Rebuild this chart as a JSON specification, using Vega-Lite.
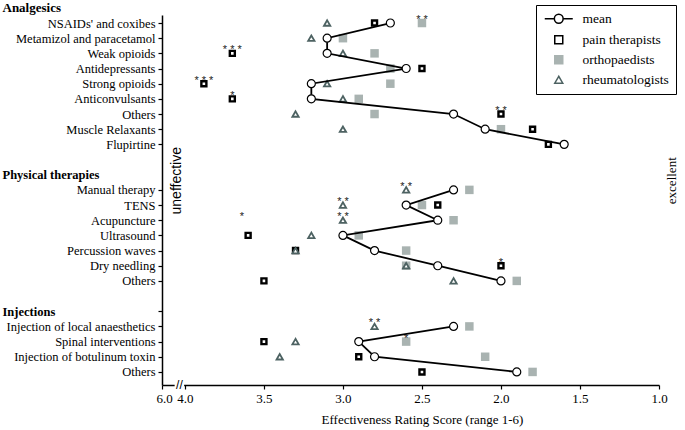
{
  "$schema": "https://vega.github.io/schema/vega-lite/v6.json",
  "width": 497,
  "height": 370,
  "autosize": {"type": "none"},
  "padding": {"left": 162, "top": 15, "right": 26, "bottom": 45},
  "background": "white",
  "config": {
    "view": {"stroke": null},
    "font": "Liberation Serif",
    "axis": {"domainColor": "black", "tickColor": "black", "labelColor": "black", "titleColor": "black", "grid": false}
  },
  "datasets": {
    "groups": [
      {"t": "NSAIDs' and coxibes", "s": "orthopaedists", "v": 2.5},
      {"t": "Metamizol and paracetamol", "s": "orthopaedists", "v": 3.0},
      {"t": "Weak opioids", "s": "orthopaedists", "v": 2.8},
      {"t": "Antidepressants", "s": "orthopaedists", "v": 2.7},
      {"t": "Strong opioids", "s": "orthopaedists", "v": 2.7},
      {"t": "Anticonvulsants", "s": "orthopaedists", "v": 2.9},
      {"t": "Others|a", "s": "orthopaedists", "v": 2.8},
      {"t": "Muscle Relaxants", "s": "orthopaedists", "v": 2.0},
      {"t": "Manual therapy", "s": "orthopaedists", "v": 2.2},
      {"t": "TENS", "s": "orthopaedists", "v": 2.5},
      {"t": "Acupuncture", "s": "orthopaedists", "v": 2.3},
      {"t": "Ultrasound", "s": "orthopaedists", "v": 2.9},
      {"t": "Percussion waves", "s": "orthopaedists", "v": 2.6},
      {"t": "Dry needling", "s": "orthopaedists", "v": 2.6},
      {"t": "Others|p", "s": "orthopaedists", "v": 1.9},
      {"t": "Injection of local anaesthetics", "s": "orthopaedists", "v": 2.2},
      {"t": "Spinal interventions", "s": "orthopaedists", "v": 2.6},
      {"t": "Injection of botulinum toxin", "s": "orthopaedists", "v": 2.1},
      {"t": "Others|i", "s": "orthopaedists", "v": 1.8},
      {"t": "NSAIDs' and coxibes", "s": "pain therapists", "v": 2.8},
      {"t": "Weak opioids", "s": "pain therapists", "v": 3.7},
      {"t": "Antidepressants", "s": "pain therapists", "v": 2.5},
      {"t": "Strong opioids", "s": "pain therapists", "v": 3.88},
      {"t": "Anticonvulsants", "s": "pain therapists", "v": 3.7},
      {"t": "Others|a", "s": "pain therapists", "v": 2.0},
      {"t": "Muscle Relaxants", "s": "pain therapists", "v": 1.8},
      {"t": "Flupirtine", "s": "pain therapists", "v": 1.7},
      {"t": "TENS", "s": "pain therapists", "v": 2.4},
      {"t": "Ultrasound", "s": "pain therapists", "v": 3.6},
      {"t": "Percussion waves", "s": "pain therapists", "v": 3.3},
      {"t": "Dry needling", "s": "pain therapists", "v": 2.0},
      {"t": "Others|p", "s": "pain therapists", "v": 3.5},
      {"t": "Spinal interventions", "s": "pain therapists", "v": 3.5},
      {"t": "Injection of botulinum toxin", "s": "pain therapists", "v": 2.9},
      {"t": "Others|i", "s": "pain therapists", "v": 2.5},
      {"t": "NSAIDs' and coxibes", "s": "rheumatologists", "v": 3.1},
      {"t": "Metamizol and paracetamol", "s": "rheumatologists", "v": 3.2},
      {"t": "Weak opioids", "s": "rheumatologists", "v": 3.0},
      {"t": "Strong opioids", "s": "rheumatologists", "v": 3.1},
      {"t": "Anticonvulsants", "s": "rheumatologists", "v": 3.0},
      {"t": "Others|a", "s": "rheumatologists", "v": 3.3},
      {"t": "Muscle Relaxants", "s": "rheumatologists", "v": 3.0},
      {"t": "Manual therapy", "s": "rheumatologists", "v": 2.6},
      {"t": "TENS", "s": "rheumatologists", "v": 3.0},
      {"t": "Acupuncture", "s": "rheumatologists", "v": 3.0},
      {"t": "Ultrasound", "s": "rheumatologists", "v": 3.2},
      {"t": "Percussion waves", "s": "rheumatologists", "v": 3.3},
      {"t": "Dry needling", "s": "rheumatologists", "v": 2.6},
      {"t": "Others|p", "s": "rheumatologists", "v": 2.3},
      {"t": "Injection of local anaesthetics", "s": "rheumatologists", "v": 2.8},
      {"t": "Spinal interventions", "s": "rheumatologists", "v": 3.3},
      {"t": "Injection of botulinum toxin", "s": "rheumatologists", "v": 3.4}
    ],
    "means": [
      {"t": "NSAIDs' and coxibes", "g": "A", "i": 0, "v": 2.7},
      {"t": "Metamizol and paracetamol", "g": "A", "i": 1, "v": 3.1},
      {"t": "Weak opioids", "g": "A", "i": 2, "v": 3.1},
      {"t": "Antidepressants", "g": "A", "i": 3, "v": 2.6},
      {"t": "Strong opioids", "g": "A", "i": 4, "v": 3.2},
      {"t": "Anticonvulsants", "g": "A", "i": 5, "v": 3.2},
      {"t": "Others|a", "g": "A", "i": 6, "v": 2.3},
      {"t": "Muscle Relaxants", "g": "A", "i": 7, "v": 2.1},
      {"t": "Flupirtine", "g": "A", "i": 8, "v": 1.6},
      {"t": "Manual therapy", "g": "P", "i": 11, "v": 2.3},
      {"t": "TENS", "g": "P", "i": 12, "v": 2.6},
      {"t": "Acupuncture", "g": "P", "i": 13, "v": 2.4},
      {"t": "Ultrasound", "g": "P", "i": 14, "v": 3.0},
      {"t": "Percussion waves", "g": "P", "i": 15, "v": 2.8},
      {"t": "Dry needling", "g": "P", "i": 16, "v": 2.4},
      {"t": "Others|p", "g": "P", "i": 17, "v": 2.0},
      {"t": "Injection of local anaesthetics", "g": "I", "i": 20, "v": 2.3},
      {"t": "Spinal interventions", "g": "I", "i": 21, "v": 2.9},
      {"t": "Injection of botulinum toxin", "g": "I", "i": 22, "v": 2.8},
      {"t": "Others|i", "g": "I", "i": 23, "v": 1.9}
    ],
    "stars": [
      {"t": "NSAIDs' and coxibes", "v": 2.5, "sig": "* *"},
      {"t": "Weak opioids", "v": 3.7, "sig": "* * *"},
      {"t": "Strong opioids", "v": 3.88, "sig": "* * *"},
      {"t": "Anticonvulsants", "v": 3.7, "sig": "*"},
      {"t": "Others|a", "v": 2.0, "sig": "* *"},
      {"t": "Manual therapy", "v": 2.6, "sig": "* *"},
      {"t": "TENS", "v": 3.0, "sig": "* *"},
      {"t": "Acupuncture", "v": 3.0, "sig": "* *"},
      {"t": "Acupuncture", "v": 3.64, "sig": "*"},
      {"t": "Dry needling", "v": 2.0, "sig": "*"},
      {"t": "Injection of local anaesthetics", "v": 2.8, "sig": "* *"},
      {"t": "Spinal interventions", "v": 2.6, "sig": "*"}
    ]
  },
  "layer": [
    {
      "data": {"values": [{"a": 4.065, "b": 4.005}]},
      "mark": {"type": "rule", "color": "white", "strokeWidth": 4},
      "encoding": {
        "x": {"field": "a", "type": "quantitative"},
        "x2": {"field": "b"},
        "y": {"value": "height"}
      }
    },
    {
      "data": {"name": "groups"},
      "mark": {"type": "point", "opacity": 1},
      "encoding": {
        "x": {
          "field": "v", "type": "quantitative",
          "scale": {"domain": [1.0, 4.145], "reverse": true, "zero": false, "nice": false},
          "axis": {
            "values": [4.145, 4.0, 3.5, 3.0, 2.5, 2.0, 1.5, 1.0],
            "labelExpr": "datum.value > 4.1 ? '6.0' : format(datum.value, '.1f')",
            "labelOffset": {"condition": {"test": "datum.value > 4.1", "value": 2}, "value": 0},
            "title": "Effectiveness Rating Score (range 1-6)",
            "titleFont": "Liberation Serif", "titleFontSize": 13, "titleFontWeight": "normal",
            "titleX": 260, "titlePadding": 8,
            "labelFont": "Liberation Serif", "labelFontSize": 13,
            "tickSize": 4, "tickWidth": 1.2, "labelPadding": 3, "domainWidth": 1.5,
            "labelFlush": false, "labelOverlap": false, "labelBound": false
          }
        },
        "y": {
          "field": "t", "type": "nominal", "sort": null,
          "scale": {
            "type": "point",
            "domain": ["NSAIDs' and coxibes", "Metamizol and paracetamol", "Weak opioids", "Antidepressants", "Strong opioids", "Anticonvulsants", "Others|a", "Muscle Relaxants", "Flupirtine", "|1", "Physical therapies", "Manual therapy", "TENS", "Acupuncture", "Ultrasound", "Percussion waves", "Dry needling", "Others|p", "|2", "Injections", "Injection of local anaesthetics", "Spinal interventions", "Injection of botulinum toxin", "Others|i"],
            "padding": 0.695, "align": 0.38
          },
          "axis": {
            "title": "Analgesics", "titleAngle": 0, "titleAlign": "left", "titleBaseline": "middle",
            "titleX": -160, "titleY": -8, "titleFontWeight": "bold", "titleFontSize": 13, "titleFont": "Liberation Serif",
            "labelExpr": "split(datum.value, '|')[0]",
            "labelFont": "Liberation Serif", "labelFontSize": 12.5,
            "labelFontWeight": {"condition": {"test": "datum.value == 'Physical therapies' || datum.value == 'Injections'", "value": "bold"}, "value": "normal"},
            "labelAlign": {"condition": {"test": "datum.value == 'Physical therapies' || datum.value == 'Injections'", "value": "left"}, "value": "right"},
            "labelPadding": {"condition": {"test": "datum.value == 'Physical therapies' || datum.value == 'Injections'", "value": 156}, "value": 3},
            "tickOpacity": {"condition": {"test": "datum.value == '|1' || datum.value == '|2' || datum.value == 'Physical therapies'", "value": 0}, "value": 1},
            "tickSize": 4, "tickWidth": 1.2, "domainWidth": 1.5,
            "labelOverlap": false, "labelBound": false
          }
        },
        "shape": {
          "field": "s", "type": "nominal",
          "scale": {"domain": ["mean", "pain therapists", "orthopaedists", "rheumatologists"], "range": ["M-3.5,0H-1.1M1.1,0H3.5M-1.1,0A1.1,1.1 0 1,1 1.1,0A1.1,1.1 0 1,1 -1.1,0Z", "square", "square", "triangle-up"]},
          "legend": {
            "title": null, "orient": "none", "legendX": 374, "legendY": -10,
            "strokeColor": "black", "fillColor": "white", "padding": 7, "symbolOffset": 9,
            "labelFont": "Liberation Serif", "labelFontSize": 13.5, "labelColor": "black", "labelOffset": 17, "rowPadding": 5,
            "symbolSize": 64,
            "encode": {"symbols": {"update": {
              "strokeWidth": {"signal": "datum.value == 'pain therapists' ? 2.4 : datum.value == 'rheumatologists' ? 1.8 : datum.value == 'orthopaedists' ? 0 : 1.6"},
              "size": {"signal": "datum.value == 'orthopaedists' ? 72 : datum.value == 'mean' ? 64 : datum.value == 'rheumatologists' ? 40 : 34"}
            }}}
          }
        },
        "fill": {
          "field": "s", "type": "nominal",
          "scale": {"domain": ["mean", "pain therapists", "orthopaedists", "rheumatologists"], "range": ["white", "white", "#a9b3b1", "white"]},
          "legend": {
            "title": null, "orient": "none", "legendX": 374, "legendY": -10,
            "strokeColor": "black", "fillColor": "white", "padding": 7, "symbolOffset": 9,
            "labelFont": "Liberation Serif", "labelFontSize": 13.5, "labelColor": "black", "labelOffset": 17, "rowPadding": 5,
            "symbolSize": 64
          }
        },
        "stroke": {
          "field": "s", "type": "nominal",
          "scale": {"domain": ["mean", "pain therapists", "orthopaedists", "rheumatologists"], "range": ["black", "black", "#a9b3b1", "#4d6262"]},
          "legend": {
            "title": null, "orient": "none", "legendX": 374, "legendY": -10,
            "strokeColor": "black", "fillColor": "white", "padding": 7, "symbolOffset": 9,
            "labelFont": "Liberation Serif", "labelFontSize": 13.5, "labelColor": "black", "labelOffset": 17, "rowPadding": 5,
            "symbolSize": 64
          }
        },
        "size": {"condition": [{"test": "datum.s == 'orthopaedists'", "value": 72}, {"test": "datum.s == 'rheumatologists'", "value": 40}], "value": 25},
        "strokeWidth": {"condition": [{"test": "datum.s == 'orthopaedists'", "value": 0}, {"test": "datum.s == 'rheumatologists'", "value": 1.8}], "value": 2.4}
      }
    },
    {
      "data": {"name": "means"},
      "mark": {"type": "line", "color": "black", "strokeWidth": 1.8},
      "encoding": {
        "x": {"field": "v", "type": "quantitative"},
        "y": {"field": "t", "type": "nominal", "sort": null},
        "detail": {"field": "g"},
        "order": {"field": "i", "type": "quantitative"}
      }
    },
    {
      "data": {"name": "means"},
      "mark": {"type": "point", "shape": "circle", "size": 64, "fill": "white", "stroke": "black", "strokeWidth": 1.2, "opacity": 1},
      "encoding": {
        "x": {"field": "v", "type": "quantitative"},
        "y": {"field": "t", "type": "nominal", "sort": null}
      }
    },
    {
      "data": {"name": "stars"},
      "mark": {"type": "text", "font": "Liberation Sans", "fontSize": 11, "baseline": "alphabetic", "dy": 0, "color": "#222222"},
      "encoding": {
        "x": {"field": "v", "type": "quantitative"},
        "y": {"field": "t", "type": "nominal", "sort": null},
        "text": {"field": "sig"}
      }
    },
    {
      "data": {"values": [{"x": 4.035, "lab": "//"}]},
      "mark": {"type": "text", "font": "Liberation Sans", "fontSize": 12, "baseline": "middle", "color": "black"},
      "encoding": {
        "x": {"field": "x", "type": "quantitative"},
        "y": {"value": "height"},
        "text": {"field": "lab"}
      }
    },
    {
      "data": {"values": [{"x": 4.05, "t": "Physical therapies", "lab": "uneffective"}]},
      "mark": {"type": "text", "font": "Liberation Sans", "fontSize": 14, "angle": 270, "baseline": "middle", "align": "center", "dx": -6, "color": "black"},
      "encoding": {
        "x": {"field": "x", "type": "quantitative"},
        "y": {"field": "t", "type": "nominal", "sort": null},
        "text": {"field": "lab"}
      }
    },
    {
      "data": {"values": [{"x": 0.92, "t": "Physical therapies", "lab": "excellent"}]},
      "mark": {"type": "text", "font": "Liberation Serif", "fontSize": 13, "angle": 270, "baseline": "middle", "align": "center", "dx": -6, "color": "black"},
      "encoding": {
        "x": {"field": "x", "type": "quantitative"},
        "y": {"field": "t", "type": "nominal", "sort": null},
        "text": {"field": "lab"}
      }
    }
  ]
}
